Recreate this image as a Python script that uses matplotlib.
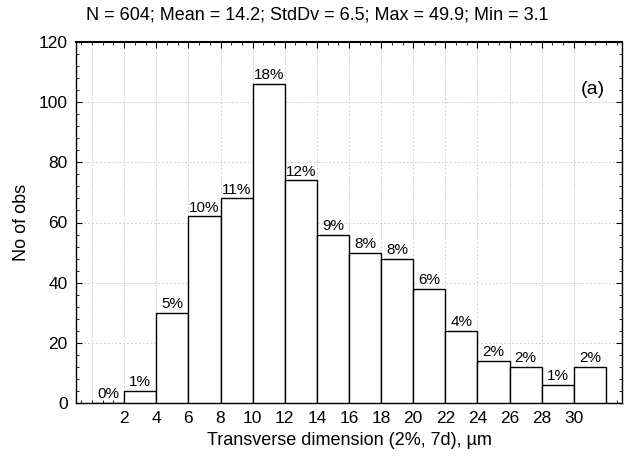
import numpy as np
import matplotlib.pyplot as plt
from matplotlib.ticker import MultipleLocator

plt.rcParams['font.family'] = ['Liberation Sans', 'DejaVu Sans']

# histogram bins (left edges) and counts
bin_left = [0, 2, 4, 6, 8, 10, 12, 14, 16, 18, 20, 22, 24, 26, 28, 30]
counts = [0, 4, 30, 62, 68, 106, 74, 56, 50, 48, 38, 24, 14, 12, 6, 12]
pct_labels = ['0%', '1%', '5%', '10%', '11%', '18%', '12%', '9%', '8%', '8%',
              '6%', '4%', '2%', '2%', '1%', '2%']
xticks = [2, 4, 6, 8, 10, 12, 14, 16, 18, 20, 22, 24, 26, 28, 30]
yticks = [0, 20, 40, 60, 80, 100, 120]
title = 'N = 604; Mean = 14.2; StdDv = 6.5; Max = 49.9; Min = 3.1'

fig = plt.figure(figsize=(6.24, 4.59), dpi=100)
ax = fig.add_axes([76 / 624, 56 / 459, 546 / 624, 361 / 459])

ax.bar(bin_left, counts, width=2, align='edge', color='white',
       edgecolor='black', linewidth=1.0, zorder=3)
for xl, c, lab in zip(bin_left, counts, pct_labels):
    ax.text(xl + 1, c + 0.6, lab, ha='center', va='bottom', fontsize=11, zorder=4)

ax.set_xlim(-1, 33)
ax.set_ylim(0, 120)
ax.set_xticks(xticks)
ax.set_yticks(yticks)
ax.xaxis.set_minor_locator(MultipleLocator(2 / 3))
ax.yaxis.set_minor_locator(MultipleLocator(4))
ax.tick_params(which='both', direction='in', top=True, right=True, labelsize=12.5)
ax.tick_params(which='major', length=4, pad=6)
ax.tick_params(which='minor', length=2)
ax.set_axisbelow(True)
ax.grid(True, which='major', color='#d0d0d0', linestyle=(0, (2, 2)), linewidth=0.7)
# gridline at x=0 as well
ax.axvline(0, color='#d0d0d0', linestyle=(0, (2, 2)), linewidth=0.7, zorder=0)

for s in ax.spines.values():
    s.set_linewidth(1.0)
ax.spines['top'].set_linewidth(1.5)

ax.set_xlabel('Transverse dimension (2%, 7d), µm', fontsize=13, labelpad=4)
ax.set_ylabel('No of obs', fontsize=13, labelpad=6)
fig.text(317 / 624, 1 - 15 / 459, title, ha='center', va='center', fontsize=13)
fig.text(593 / 624, 1 - 90 / 459, '(a)', ha='center', va='center', fontsize=14)

fig.savefig('out.png', dpi=100)
